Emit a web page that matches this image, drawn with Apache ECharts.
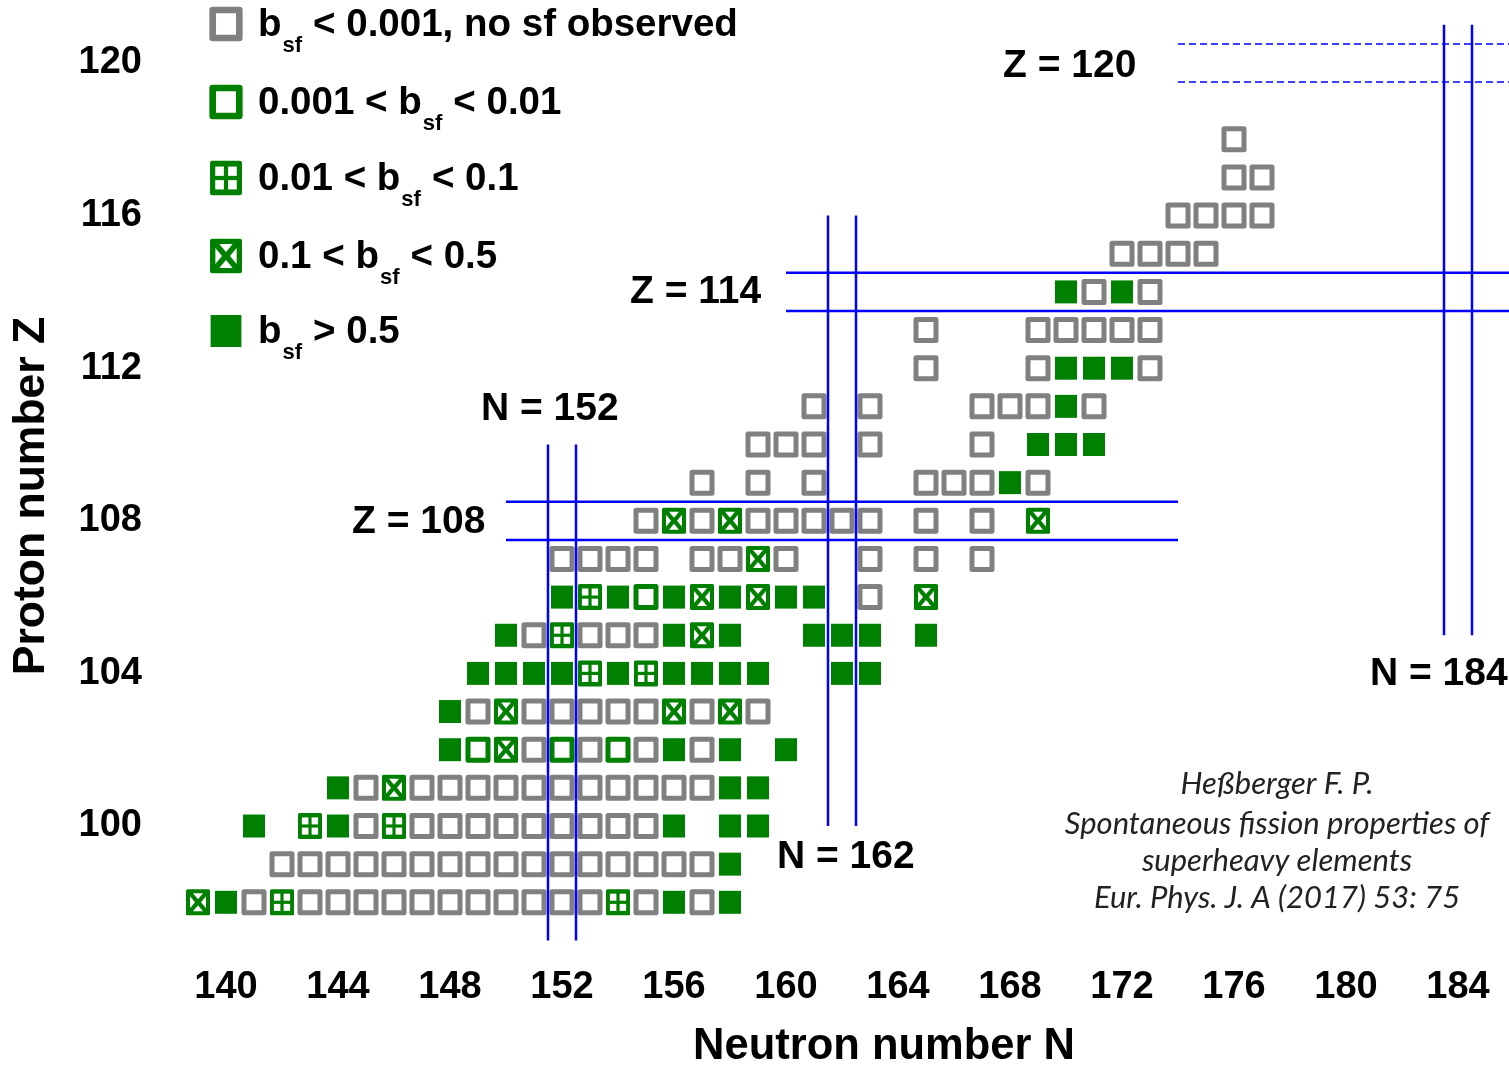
<!DOCTYPE html>
<html><head><meta charset="utf-8">
<script src="https://cdn.jsdelivr.net/npm/echarts@6/dist/echarts.min.js"></script>
<style>html,body{margin:0;padding:0;background:#fff}#c{width:1509px;height:1065px}</style>
</head><body><div id="c"></div>
<script>
// ---- tick labels ----
const xTickLabels = [140,144,148,152,156,160,164,168,172,176,180,184];
const yTickLabels = [100,104,108,112,116,120];

// ---- nuclides [N, Z] by spontaneous-fission branching ratio ----
// b_sf < 0.001, no sf observed (grey open square)
const noSf = [
  [141,98],[143,98],[144,98],[145,98],[146,98],[147,98],[148,98],[149,98],[150,98],[151,98],[152,98],[153,98],[155,98],[157,98],
  [142,99],[143,99],[144,99],[145,99],[146,99],[147,99],[148,99],[149,99],[150,99],[151,99],[152,99],[153,99],[154,99],[155,99],[156,99],[157,99],
  [145,100],[147,100],[148,100],[149,100],[150,100],[151,100],[152,100],[153,100],[154,100],[155,100],
  [145,101],[147,101],[148,101],[149,101],[150,101],[151,101],[152,101],[153,101],[154,101],[155,101],[156,101],[157,101],
  [151,102],[153,102],[155,102],[157,102],
  [149,103],[151,103],[152,103],[153,103],[154,103],[155,103],[157,103],[159,103],
  [151,105],[153,105],[154,105],[155,105],
  [163,106],
  [152,107],[153,107],[154,107],[155,107],[157,107],[158,107],[160,107],[163,107],[165,107],[167,107],
  [155,108],[157,108],[159,108],[160,108],[161,108],[162,108],[163,108],[165,108],[167,108],
  [157,109],[159,109],[161,109],[165,109],[166,109],[167,109],[169,109],
  [159,110],[160,110],[161,110],[163,110],[167,110],
  [161,111],[163,111],[167,111],[168,111],[169,111],[171,111],
  [165,112],[169,112],[173,112],
  [165,113],[169,113],[170,113],[171,113],[172,113],[173,113],
  [171,114],[173,114],
  [172,115],[173,115],[174,115],[175,115],
  [174,116],[175,116],[176,116],[177,116],
  [176,117],[177,117],
  [176,118]
];
// 0.001 < b_sf < 0.01 (green open square)
const sfLow = [[149,102],[152,102],[154,102],[155,106]];
// 0.01 < b_sf < 0.1 (green square with four windows)
const sfMid = [[142,98],[154,98],[143,100],[146,100],[153,104],[155,104],[152,105],[153,106]];
// 0.1 < b_sf < 0.5 (green crossed square)
const sfHigh = [[139,98],[146,101],[150,102],[150,103],[156,103],[158,103],[157,105],[157,106],[159,106],[165,106],[159,107],[156,108],[158,108],[169,108]];
// b_sf > 0.5 (green filled square)
const sfDom = [
  [140,98],[156,98],[158,98],
  [158,99],
  [141,100],[144,100],[156,100],[158,100],[159,100],
  [144,101],[158,101],[159,101],
  [148,102],[156,102],[158,102],[160,102],
  [148,103],
  [149,104],[150,104],[151,104],[152,104],[154,104],[156,104],[157,104],[158,104],[159,104],[162,104],[163,104],
  [150,105],[156,105],[158,105],[161,105],[162,105],[163,105],[165,105],
  [152,106],[154,106],[156,106],[158,106],[160,106],[161,106],
  [168,109],
  [169,110],[170,110],[171,110],
  [170,111],
  [170,112],[171,112],[172,112],
  [170,114],[172,114]
];

// ---- shell closures: [magic number, from, to] ----
const shellN = [[152,97,110],[162,100,116],[184,105,121]];
const shellZ = [[108,150,174],[114,160,186]];
const shellZpredicted = [[120,174,186]];

const GRAY = '#808080', GREEN = '#008000', BLUE = '#0000ff';
const FONT = '"Liberation Sans", Arial, sans-serif';

function glyph(kind, cx, cy, s) {
  const el = [];
  if (kind === 'none' || kind === 'low') {
    const w = 20*s, h = 21*s;
    el.push({type:'rect', shape:{x:cx-w/2, y:cy-h/2, width:w, height:h},
      style:{fill:'#fff', stroke: kind==='none'?GRAY:GREEN, lineWidth:5*s, lineJoin:'round'}});
  } else if (kind === 'full') {
    const w = 22*s, h = 23*s;
    el.push({type:'rect', shape:{x:cx-w/2, y:cy-h/2, width:w, height:h}, style:{fill:GREEN}});
  } else {
    const w = 24*s, h = 26*s;
    el.push({type:'rect', shape:{x:cx-w/2, y:cy-h/2, width:w, height:h, r:1.5*s}, style:{fill:GREEN}});
    if (kind === 'mid') {
      const q = 6.5*s, qh = 7*s, g = 1.6*s;
      [-1,1].forEach(dx => [-1,1].forEach(dy => {
        el.push({type:'rect', shape:{x: dx<0 ? cx-g-q : cx+g, y: dy<0 ? cy-g-qh : cy+g, width:q, height:qh}, style:{fill:'#fff'}});
      }));
    } else {
      const a = 8*s, b = 9*s, d = 3*s, e = 3*s;
      const polys = [
        [[cx-a+d, cy-b],[cx+a-d, cy-b],[cx, cy-e]],
        [[cx-a+d, cy+b],[cx+a-d, cy+b],[cx, cy+e]],
        [[cx-a, cy-b+d],[cx-a, cy+b-d],[cx-e, cy]],
        [[cx+a, cy-b+d],[cx+a, cy+b-d],[cx+e, cy]]
      ];
      polys.forEach(p => el.push({type:'polygon', shape:{points:p}, style:{fill:'#fff'}}));
    }
  }
  return el;
}

function cellSeries(name, data, kind) {
  return {
    type:'custom', name, data, encode:{x:0, y:1}, z:2,
    renderItem: (params, api) => {
      const p = api.coord([api.value(0), api.value(1)]);
      return {type:'group', children: glyph(kind, p[0], p[1], 1)};
    }
  };
}

function vShellSeries(data) {
  return {
    type:'custom', data, encode:{x:0, y:[1,2]}, z:5,
    renderItem: (params, api) => {
      const n = api.value(0), z0 = api.value(1), z1 = api.value(2);
      const ch = [];
      [n-0.5, n+0.5].forEach(x => {
        const a = api.coord([x, z0]), b = api.coord([x, z1]);
        ch.push({type:'line', shape:{x1:a[0], y1:a[1], x2:b[0], y2:b[1]}, style:{stroke:BLUE, lineWidth:2.5}});
      });
      return {type:'group', children: ch};
    }
  };
}
function hShellSeries(data, dashed) {
  return {
    type:'custom', data, encode:{y:0, x:[1,2]}, z:5,
    renderItem: (params, api) => {
      const z = api.value(0), n0 = api.value(1), n1 = api.value(2);
      const ch = [];
      [z-0.5, z+0.5].forEach(y => {
        const a = api.coord([n0, y]), b = api.coord([n1, y]);
        ch.push({type:'line', shape:{x1:a[0], y1:a[1], x2:b[0], y2:b[1]},
          style: dashed ? {stroke:BLUE, lineWidth:1.5, lineDash:[7,4]} : {stroke:BLUE, lineWidth:2.5}});
      });
      return {type:'group', children: ch};
    }
  };
}

const TEXT_DY = 3;
function txt(text, x, y, size, opts) {
  opts = opts || {};
  return {type:'text', x, y: y + TEXT_DY, rotation: opts.rot || 0, z: 10,
    style:{text, fill: opts.color || '#000', font: (opts.font || ('bold ' + size + 'px ' + FONT)),
      textAlign: opts.align || 'left', align: opts.align || 'left',
      textVerticalAlign:'middle', verticalAlign:'middle'}};
}
const measureCtx = document.createElement('canvas').getContext('2d');
function textWidth(text, size) {
  measureCtx.font = 'bold ' + size + 'px ' + FONT;
  return measureCtx.measureText(text).width;
}

// legend
const LEG = 38.5, SUB = 22;
const legendItems = [
  {kind:'none', y:24, pre:'b', sub:'sf', post:'< 0.001, no sf observed'},
  {kind:'low',  y:102, pre:'0.001 < b', sub:'sf', post:'< 0.01'},
  {kind:'mid',  y:178, pre:'0.01 < b', sub:'sf', post:'< 0.1'},
  {kind:'high', y:256, pre:'0.1 < b', sub:'sf', post:'< 0.5'},
  {kind:'full', y:331, pre:'b', sub:'sf', post:'> 0.5'}
];
const graphics = [];
legendItems.forEach(it => {
  graphics.push({type:'group', children: glyph(it.kind, 226, it.y, it.kind==='full'?1.4:1.33)});
  const subX = 258 + textWidth(it.pre, LEG) + 1;
  const postX = subX + textWidth(it.sub, SUB) + 11;
  graphics.push(txt(it.pre, 258, it.y - 2, LEG));
  graphics.push(txt(it.sub, subX, it.y + 19, SUB));
  graphics.push(txt(it.post, postX, it.y - 2, LEG));
});
// shell annotations
graphics.push(txt('Z = 120', 1003, 63, 39));
graphics.push(txt('Z = 114', 630, 289, 39));
graphics.push(txt('Z = 108', 352, 519, 39));
graphics.push(txt('N = 152', 481, 406, 39));
graphics.push(txt('N = 162', 777, 854, 39));
graphics.push(txt('N = 184', 1370, 671, 39));
// axis titles
graphics.push(txt('Neutron number N', 884, 1044, 43.5, {align:'center'}));
graphics.push(txt('Proton number Z', 32, 493, 44.5, {align:'center', rot: Math.PI/2}));
// citation
const citeFont = 'italic 31px Lato, "Open Sans", sans-serif';
[['Heßberger F. P.', 781], ['Spontaneous fission properties of', 821], ['superheavy elements', 858], ['Eur. Phys. J. A (2017) 53: 75', 895]]
  .forEach(([t, y]) => graphics.push(txt(t, 1277, y, 31, {align:'center', font: citeFont, color:'#222'})));

const chart = echarts.init(document.getElementById('c'));
chart.setOption({
  animation:false,
  backgroundColor:'#fff',
  grid:{left:114, width:1386, top:24.85, height:953.75},
  xAxis:{type:'value', min:136, max:185.5, interval:4, offset:-18,
    axisLine:{show:false}, axisTick:{show:false}, splitLine:{show:false},
    axisLabel:{margin:8, color:'#000', fontSize:38, fontWeight:'bold', fontFamily:FONT,
      formatter: v => xTickLabels.includes(v) ? String(v) : ''}},
  yAxis:{type:'value', min:96, max:121, interval:4, offset:-36,
    axisLine:{show:false}, axisTick:{show:false}, splitLine:{show:false},
    axisLabel:{margin:8, color:'#000', fontSize:38, fontWeight:'bold', fontFamily:FONT,
      formatter: v => yTickLabels.includes(v) ? String(v) : ''}},
  series:[
    cellSeries('no sf observed', noSf, 'none'),
    cellSeries('0.001-0.01', sfLow, 'low'),
    cellSeries('0.01-0.1', sfMid, 'mid'),
    cellSeries('0.1-0.5', sfHigh, 'high'),
    cellSeries('>0.5', sfDom, 'full'),
    vShellSeries(shellN),
    hShellSeries(shellZ, false),
    hShellSeries(shellZpredicted, true)
  ],
  graphic: graphics
});
</script></body></html>
